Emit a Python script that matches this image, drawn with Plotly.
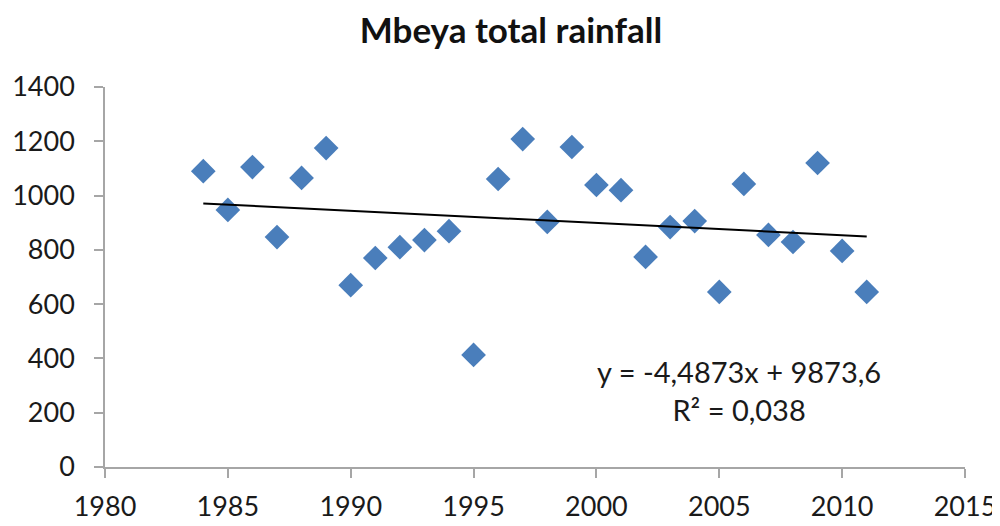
import plotly.graph_objects as go

years = list(range(1984, 2012))
rainfall = [1090, 947, 1105, 847, 1065, 1175, 670, 770, 810, 836, 869, 413,
            1061, 1208, 903, 1179, 1039, 1020, 774, 884, 906, 645, 1043, 855,
            829, 1120, 796, 645]
slope = -4.4873
intercept = 9873.6
x_ticks = [1980, 1985, 1990, 1995, 2000, 2005, 2010, 2015]
y_ticks = [0, 200, 400, 600, 800, 1000, 1200, 1400]

trend_x = [years[0], years[-1]]
trend_y = [slope * x + intercept for x in trend_x]

font_family = "Lato, 'Open Sans', sans-serif"

fig = go.Figure()
fig.add_trace(go.Scatter(
    x=years, y=rainfall, mode="markers",
    marker=dict(symbol="diamond", size=19, color="#4a7ebb", line=dict(width=0)),
    showlegend=False, hoverinfo="x+y"))
fig.add_trace(go.Scatter(
    x=trend_x, y=trend_y, mode="lines",
    line=dict(color="black", width=2), showlegend=False))

fig.add_annotation(
    x=2005.8, y=282, xref="x", yref="y",
    text="y = -4,4873x + 9873,6<br>R² = 0,038",
    showarrow=False, align="center",
    font=dict(family=font_family, size=29, color="#1a1a1a"))

fig.update_layout(
    width=992, height=518,
    paper_bgcolor="white", plot_bgcolor="white",
    margin=dict(l=97, r=35, t=79, b=59, autoexpand=False),
    title=dict(text="<b>Mbeya total rainfall</b>", x=0.507, xanchor="center",
               y=0.956, yanchor="middle",
               font=dict(family=font_family, size=35, color="#111111")),
    font=dict(family=font_family, size=27, color="#1a1a1a"),
)
fig.update_xaxes(
    range=[1980, 2015], tickvals=x_ticks, ticktext=[str(v) for v in x_ticks],
    showgrid=False, zeroline=False, showline=True, linecolor="#a6a6a6", linewidth=1.5,
    ticks="outside", ticklen=9, tickcolor="#a6a6a6", tickwidth=1.5,
    ticklabelstandoff=6, automargin=False)
fig.update_yaxes(
    range=[0, 1400], tickvals=y_ticks, ticktext=[str(v) for v in y_ticks],
    showgrid=False, zeroline=False, showline=True, linecolor="#a6a6a6", linewidth=1.5,
    ticks="outside", ticklen=9, tickcolor="#a6a6a6", tickwidth=1.5,
    ticklabelstandoff=14, automargin=False)

fig.write_html("out.html")
